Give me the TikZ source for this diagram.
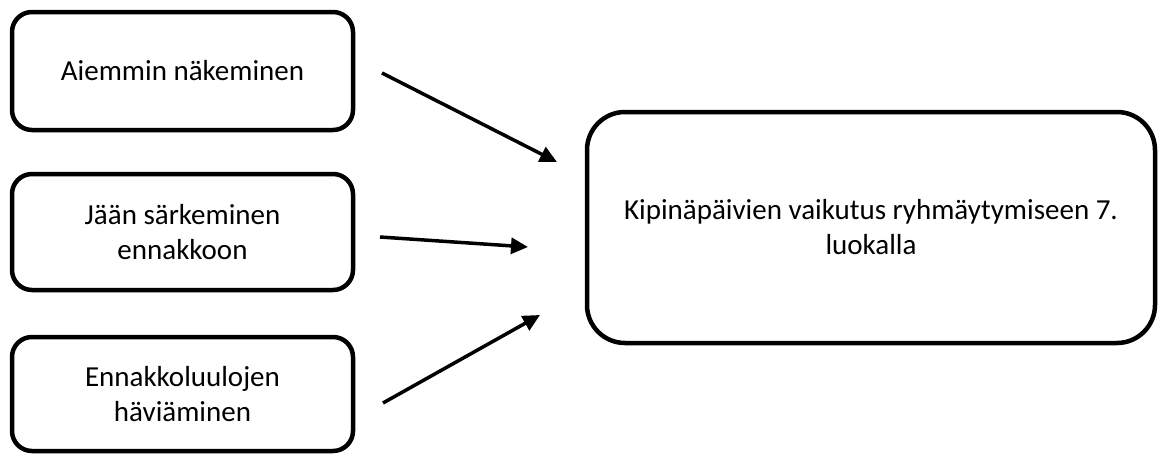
\documentclass[tikz,border=0pt]{standalone}
\usepackage{fontspec}
\setmainfont{Carlito}
\usetikzlibrary{arrows.meta}
\tikzset{
    syy/.style={draw, line width=4.5pt, rounded corners=20pt, align=center,
        minimum width=341pt, font=\fontsize{29}{35}\selectfont},
    tulos/.style={draw, line width=4.5pt, rounded corners=38pt, align=center,
        minimum width=568pt, minimum height=231pt, font=\fontsize{29}{35}\selectfont},
    nuoli/.style={-{Triangle[length=17pt,width=16pt]}, line width=3.5pt}
}
\begin{document}
\begin{tikzpicture}[x=1pt, y=-1pt]
\useasboundingbox (0,0) rectangle (1163,455);

\node[syy, minimum height=118pt](aiemmin) at (182.5,71) {Aiemmin näkeminen};
\node[syy, minimum height=116pt](jaa) at (182.5,232) {Jään särkeminen\\ennakkoon};
\node[syy, minimum height=114pt](luulot) at (182.5,394) {Ennakkoluulojen\\häviäminen};

\node[tulos](kipina) at (871,227.5) {Kipinäpäivien vaikutus ryhmäytymiseen 7.\\luokalla};

% nuolet
\coordinate (s1) at (382,73);   \coordinate (t1) at (557,162);
\coordinate (s2) at (380,237);  \coordinate (t2) at (528,247);
\coordinate (s3) at (383,403);  \coordinate (t3) at (540,315);
\foreach \i in {1,2,3}
{
    \draw[nuoli](s\i)--(t\i);
}
\end{tikzpicture}
\end{document}
